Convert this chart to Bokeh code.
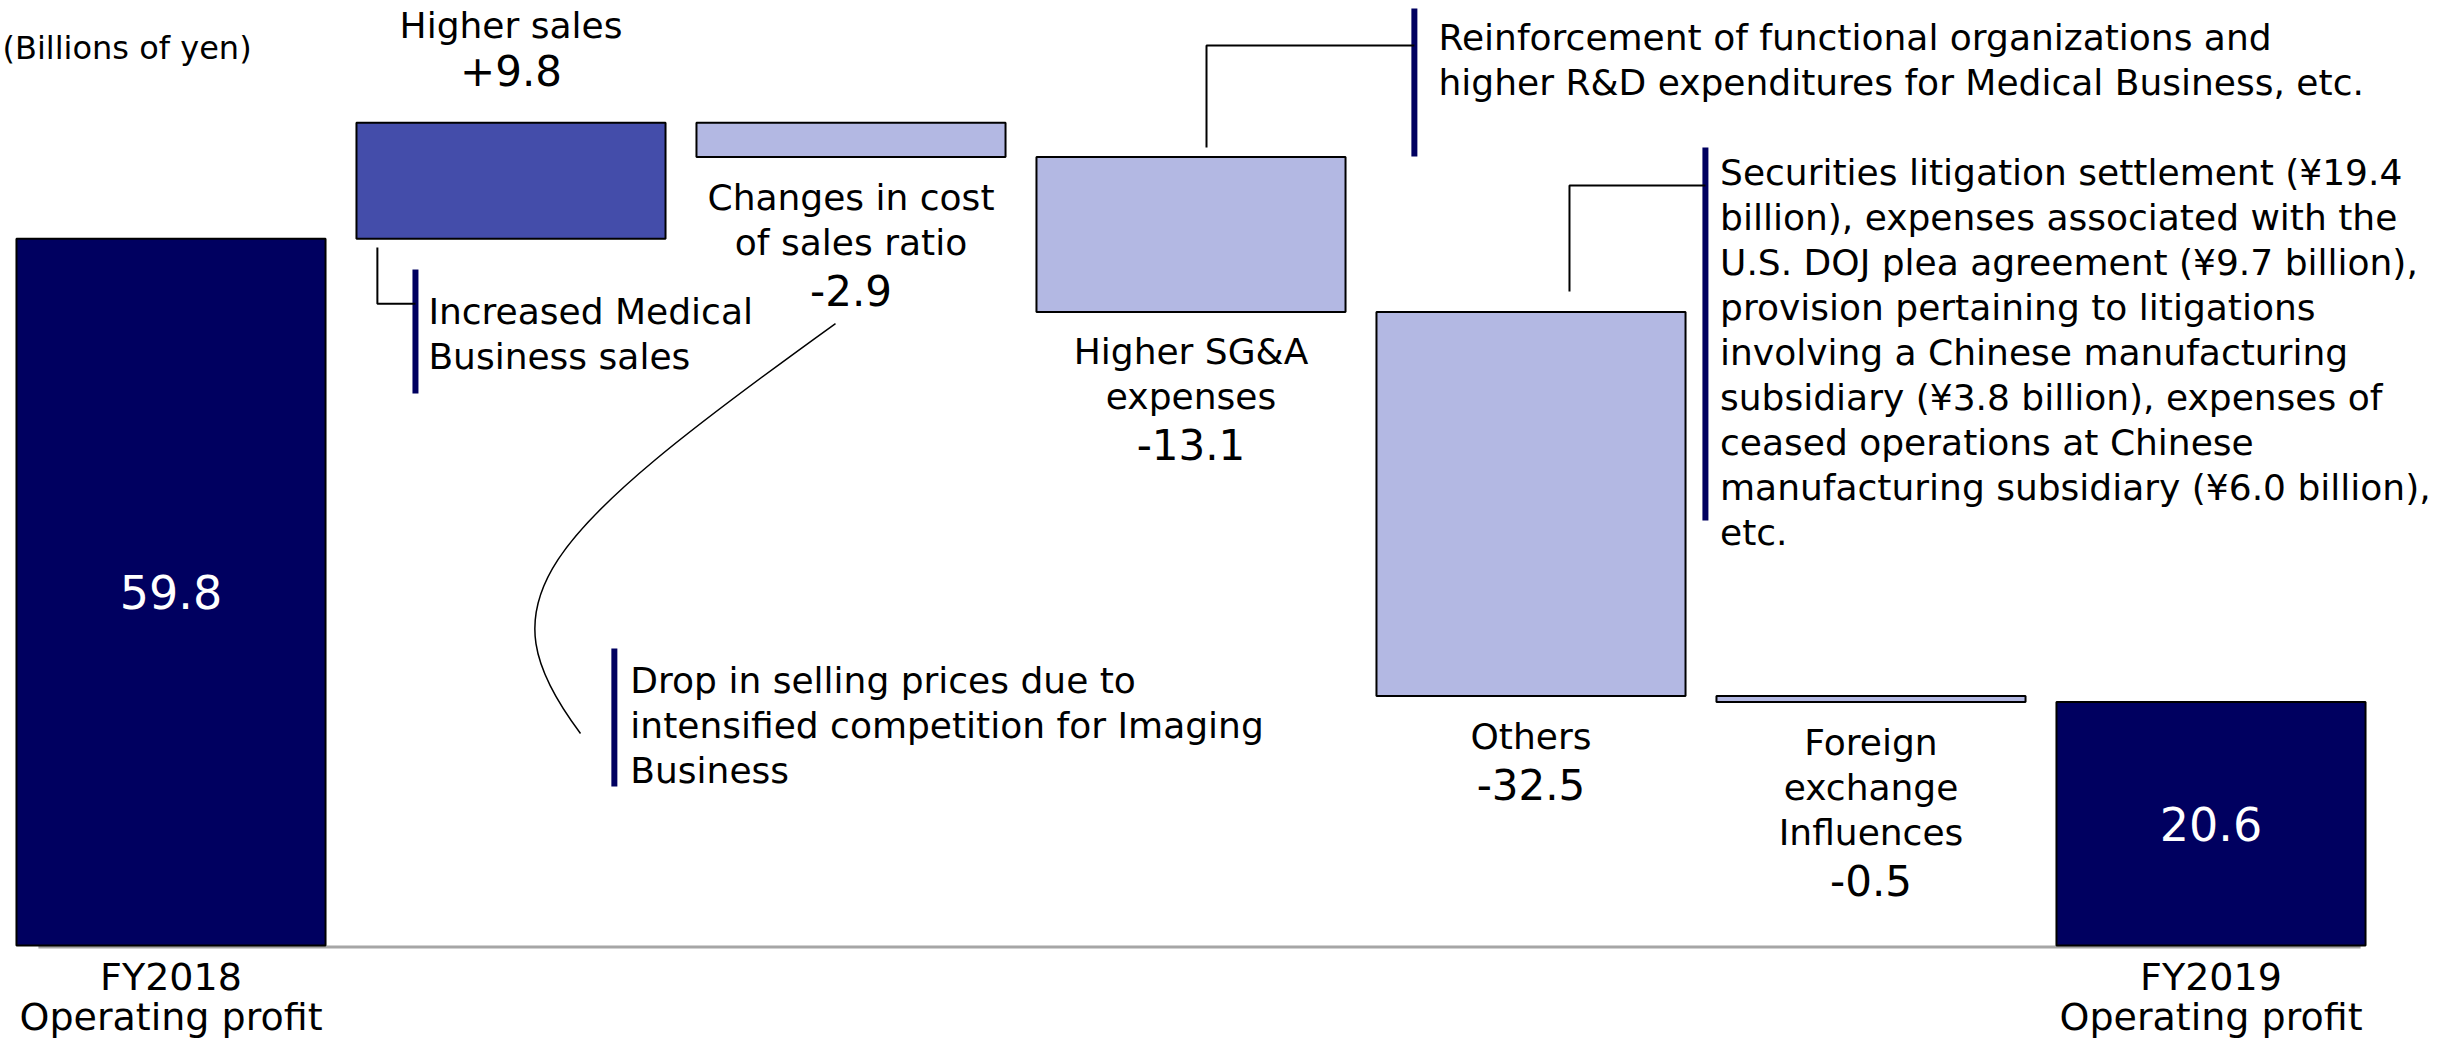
from bokeh.plotting import figure
from bokeh.models import Range1d
from bokeh.core.properties import value
from bokeh.embed import file_html
from bokeh.resources import INLINE

# ---------------- data ----------------
categories = ["FY2018\nOperating profit", "Higher sales", "Changes in cost\nof sales ratio",
              "Higher SG&A\nexpenses", "Others", "Foreign\nexchange\nInfluences",
              "FY2019\nOperating profit"]
values = [59.8, 9.8, -2.9, -13.1, -32.5, -0.5, 20.6]
kinds = ["total", "delta", "delta", "delta", "delta", "delta", "total"]
value_labels = ["59.8", "+9.8", "-2.9", "-13.1", "-32.5", "-0.5", "20.6"]
unit_label = "(Billions of yen)"

note_medical = ["Increased Medical", "Business sales"]
note_prices = ["Drop in selling prices due to", "intensified competition for Imaging", "Business"]
note_sga = ["Reinforcement of functional organizations and",
            "higher R&D expenditures for Medical Business, etc."]
note_others = ["Securities litigation settlement (\u00a519.4",
               "billion), expenses associated with the",
               "U.S. DOJ plea agreement (\u00a59.7 billion),",
               "provision pertaining to litigations",
               "involving a Chinese manufacturing",
               "subsidiary (\u00a53.8 billion), expenses of",
               "ceased operations at Chinese",
               "manufacturing subsidiary (\u00a56.0 billion),",
               "etc."]

# ---------------- layout / style ----------------
W, H = 2437, 1038
X_PX = 340.0      # pixels per category slot
Y_PX = 11.82      # pixels per billion yen
X0 = -170.5 / X_PX
Y1 = 945.0 / Y_PX
Y0 = Y1 - H / Y_PX
BAR_W = 0.909
FONT = value("DejaVu Sans")
NAVY = "#000060"
UP = "#444DAA"
DOWN = "#B3B8E3"

p = figure(width=W, height=H, output_backend="svg", toolbar_location=None,
           x_range=Range1d(X0, X0 + W / X_PX), y_range=Range1d(Y0, Y1),
           x_axis_type=None, y_axis_type=None, min_border=0,
           min_border_left=0, min_border_right=0, min_border_top=0, min_border_bottom=0)
p.outline_line_color = None
p.grid.visible = False
p.background_fill_color = "white"
p.border_fill_color = "white"

def px(n):
    return n / Y_PX

# baseline
p.segment(x0=[-0.39], y0=[-0.13], x1=[6.44], y1=[-0.13], line_color="#A6A6A6", line_width=3)

# ---------------- waterfall bars ----------------
xs = list(range(len(values)))
bottoms, tops, colors = [], [], []
cum = 0.0
for v, k in zip(values, kinds):
    if k == "total":
        b, t = 0.0, v
        cum = v
        colors.append(NAVY)
    else:
        start, end = cum, cum + v
        b, t = min(start, end), max(start, end)
        cum = end
        colors.append(UP if v > 0 else DOWN)
    bottoms.append(b)
    tops.append(t)

p.quad(left=[x - BAR_W / 2 for x in xs], right=[x + BAR_W / 2 for x in xs],
       bottom=bottoms, top=tops, fill_color=colors, line_color="black", line_width=2)

# ---------------- bar labels ----------------
tx, ty, tt, tsize, tcol = [], [], [], [], []
def add(x, y, t, size, col="black"):
    tx.append(x); ty.append(y); tt.append(t); tsize.append(size); tcol.append(col)

for i, (cat, v, k, lab) in enumerate(zip(categories, values, kinds, value_labels)):
    lines = cat.split("\n")
    if k == "total":
        add(i, (bottoms[i] + tops[i]) / 2, lab, "46px", "white")
        for j, ln in enumerate(lines):
            add(i, -px(31 + 40 * j), ln, "38px")
    elif v > 0:
        add(i, tops[i] + px(52), lab, "42px")
        for j, ln in enumerate(reversed(lines)):
            add(i, tops[i] + px(97 + 45 * j), ln, "36px")
    else:
        for j, ln in enumerate(lines):
            add(i, bottoms[i] - px(40 + 45 * j), ln, "36px")
        add(i, bottoms[i] - px(40 + 45 * (len(lines) - 1) + 48), lab, "42px")

p.text(x=tx, y=ty, text=tt, text_font_size=tsize, text_color=tcol, text_font=FONT,
       text_align="center", text_baseline="middle")

# unit label
p.text(x=[X0 + 2 / X_PX], y=[75.97], text=[unit_label], text_font=FONT, text_font_size="32px",
       text_align="left", text_baseline="middle", text_color="black")

# ---------------- annotations ----------------
# (text lines, text x, first line y, marker x, marker y top, marker y bottom)
notes = [
    (note_medical, 0.757, 53.64, 0.719, 57.19, 46.70),
    (note_prices, 1.351, 22.38, 1.304, 25.13, 13.45),
    (note_sga, 3.728, 76.78, 3.657, 79.27, 66.75),
    (note_others, 4.556, 65.40, 4.513, 67.51, 35.96),
]
ax, ay, at = [], [], []
for lines, x, y, mx, my0, my1 in notes:
    for j, ln in enumerate(lines):
        ax.append(x); ay.append(y - px(45 * j)); at.append(ln)
p.text(x=ax, y=ay, text=at, text_font=FONT, text_font_size="36px",
       text_align="left", text_baseline="middle", text_color="black")
p.segment(x0=[n[3] for n in notes], y0=[n[4] for n in notes],
          x1=[n[3] for n in notes], y1=[n[5] for n in notes],
          line_color=NAVY, line_width=6, line_cap="butt")

# elbow connectors
p.multi_line(xs=[[0.607, 0.607, 0.719], [3.0456, 3.0456, 3.657], [4.1132, 4.1132, 4.513]],
             ys=[[59.05, 54.30, 54.30], [67.51, 76.14, 76.14], [55.33, 64.30, 64.30]],
             line_color="black", line_width=2)
# curved connector
p.bezier(x0=[1.9544], y0=[52.62], x1=[1.2044], y1=[17.94],
         cx0=[1.0721], cy0=[34.35], cx1=[0.9103], cy1=[29.19],
         line_color="black", line_width=1.5)

open("out.html", "w").write(file_html(p, INLINE))
